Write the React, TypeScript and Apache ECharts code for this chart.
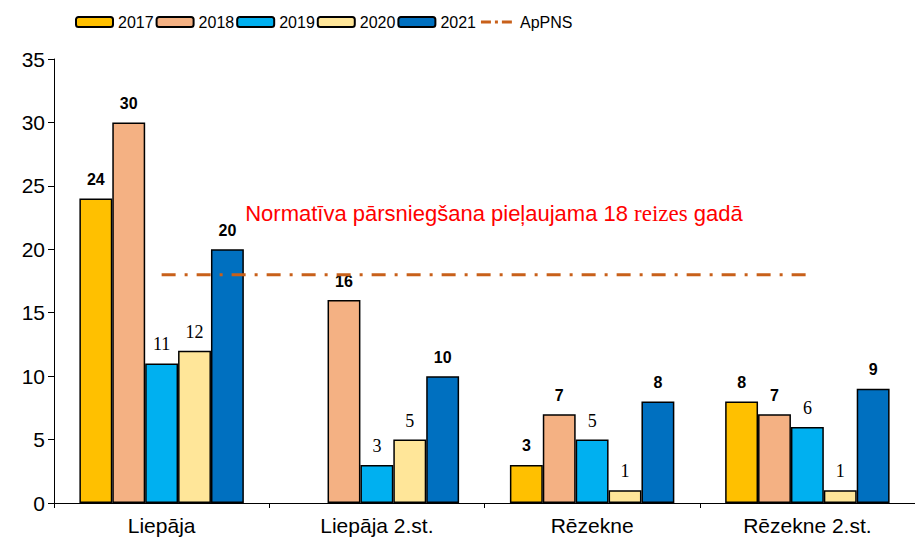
import React, { useEffect, useRef } from "react";
import * as echarts from "echarts";

const categories = ["Liepāja", "Liepāja 2.st.", "Rēzekne", "Rēzekne 2.st."];
const years = ["2017", "2018", "2019", "2020", "2021"];
const v2017 = [24, null, 3, 8];
const v2018 = [30, 16, 7, 7];
const v2019 = [11, 3, 5, 6];
const v2020 = [12, 5, 1, 1];
const v2021 = [20, 10, 8, 9];
const limitName = "ApPNS";
const limitValues = [18, 18, 18, 18];
const note = "Normatīva pārsniegšana pieļaujama 18 reizes gadā";

const colors = ["#FFC000", "#F4B183", "#00B0F0", "#FFE699", "#0070C0"];
const serifYears = ["2019", "2020"];
const lineColor = "#C8601A";

export default function App() {
  const ref = useRef<HTMLDivElement>(null);
  useEffect(() => {
    if (!ref.current) return;
    const chart = echarts.init(ref.current, null, { renderer: "svg" });
    const values = [v2017, v2018, v2019, v2020, v2021];
    const barSeries = years.map((y, i) => {
      const serif = serifYears.includes(y);
      return {
        name: y,
        type: "bar",
        data: values[i],
        barGap: "0%",
        barCategoryGap: "23.6%",
        itemStyle: { color: colors[i], borderColor: "#000", borderWidth: 1.5 },
        label: {
          show: true,
          position: "top",
          distance: serif ? 10 : 11,
          color: "#000",
          fontFamily: serif ? "Liberation Serif" : "Liberation Sans",
          fontWeight: serif ? "normal" : "bold",
          fontSize: serif ? 18 : 16,
        },
      };
    });
    const noteParts = note.split("reizes");
    chart.setOption({
      animation: false,
      backgroundColor: "#fff",
      grid: { left: 54, top: 59, width: 862, bottom: 36, containLabel: false },
      legend: {
        left: 75,
        top: 14,
        padding: 0,
        itemWidth: 37,
        itemHeight: 10,
        itemGap: 2,
        textStyle: { fontFamily: "Liberation Sans", fontSize: 16, color: "#000" },
        data: [
          ...years,
          {
            name: limitName,
            icon: "path://M0,0h0.1v0.1h-0.1z M37,9.9h0.1v0.1h-0.1z M3,3.5h10v3h-10z M17,3.5h3v3h-3z M24,3.5h10v3h-10z",
          },
        ],
      },
      xAxis: {
        type: "category",
        data: categories,
        axisLine: { lineStyle: { color: "#000", width: 1 } },
        axisTick: { show: true, length: 5, lineStyle: { color: "#000" } },
        axisLabel: { fontFamily: "Liberation Sans", fontSize: 21, color: "#000", margin: 12 },
      },
      yAxis: {
        type: "value",
        min: 0,
        max: 35,
        interval: 5,
        splitLine: { show: false },
        axisLine: { show: true, lineStyle: { color: "#000" } },
        axisTick: { show: true, length: 6, lineStyle: { color: "#000" } },
        axisLabel: { fontFamily: "Liberation Sans", fontSize: 21, color: "#000", margin: 9 },
      },
      series: [
        ...barSeries,
        {
          name: limitName,
          type: "line",
          data: limitValues,
          symbol: "none",
          z: 5,
          itemStyle: { color: lineColor },
          lineStyle: { color: lineColor, width: 3, type: [14, 9, 3, 9] },
        },
      ],
      graphic: [
        {
          type: "text",
          x: 494,
          y: 213,
          style: {
            text: `{a|${noteParts[0]}}{b|reizes}{a|${noteParts[1]}}`,
            align: "center",
            verticalAlign: "middle",
            rich: {
              a: { fontFamily: "Liberation Sans", fontSize: 22, fill: "#FF0000", color: "#FF0000" },
              b: { fontFamily: "Liberation Serif", fontSize: 23, fill: "#FF0000", color: "#FF0000" },
            },
          },
        },
      ],
    });
    return () => chart.dispose();
  }, []);
  return <div ref={ref} style={{ width: 915, height: 539, position: "absolute", left: 0, top: 0 }} />;
}
